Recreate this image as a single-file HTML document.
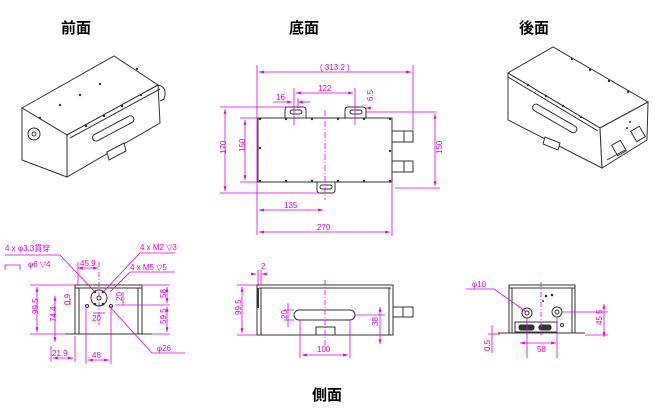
<!DOCTYPE html>
<html><head><meta charset="utf-8"><style>
html,body{margin:0;padding:0;background:#fff;width:660px;height:408px;overflow:hidden}
svg{display:block}
.t{font-family:"Liberation Sans","Noto Sans CJK JP",sans-serif;font-weight:bold;font-size:15px;fill:#000}
.m{stroke:#e000e0;stroke-width:0.8;fill:none}
.mt{font-family:"Liberation Sans",sans-serif;font-size:8px;fill:#e000e0}
.k{stroke:#333;stroke-width:1;fill:none}
.kf{stroke:#333;stroke-width:1;fill:#fff}
</style></head><body>
<svg width="660" height="408" viewBox="0 0 660 408">
<defs>
<marker id="a" viewBox="0 0 10 10" refX="10" refY="5" markerWidth="6" markerHeight="6" orient="auto-start-reverse"><path d="M0,2L10,5L0,8z" fill="#e000e0"/></marker>
</defs>
<text class="t" x="61" y="33">前面</text>
<text class="t" x="289" y="33">底面</text>
<text class="t" x="519" y="33">後面</text>
<text class="t" x="312" y="400">側面</text>

<!-- front iso -->
<g class="k">
<polygon class="kf" points="22,108 114,56 158,85 67,135"/>
<polygon class="kf" points="22,108 67,135 67,177 22,160"/>
<polygon class="kf" points="67,135 158,85 160,123 67,177"/>
<line x1="70" y1="138" x2="160" y2="89"/>
<path d="M158,85 q10,2 6,14 l-4,2"/>
<rect x="90" y="125" width="46" height="7" rx="3.5" transform="rotate(-28 113 128)"/>
<polygon class="kf" points="107,152 124,143 126,151 109,160"/>
<circle cx="34" cy="134" r="6"/><circle cx="34" cy="134" r="2"/>
</g>
<g fill="#333"><circle cx="40" cy="118" r="1.2"/><circle cx="60" cy="105" r="1.2"/><circle cx="80" cy="95" r="1.2"/><circle cx="100" cy="84" r="1.2"/><circle cx="86" cy="126" r="1.2"/><circle cx="104" cy="116" r="1.2"/><circle cx="122" cy="106" r="1.2"/><circle cx="141" cy="95" r="1.2"/><circle cx="137" cy="69" r="1.2"/></g>

<!-- back iso -->
<g class="k">
<polygon class="kf" points="508,73 553,47 648,102 600,128"/>
<polygon class="kf" points="508,73 600,128 602,168 508,120"/>
<polygon class="kf" points="600,128 648,102 647,140 602,168"/>
<line x1="508" y1="77" x2="598" y2="131"/>
<rect x="530" y="115" width="50" height="7" rx="3.5" transform="rotate(30 555 118)"/>
<polygon class="kf" points="545,137 560,143 558,150 543,144"/>
<rect x="614" y="142" width="10" height="12" transform="rotate(-30 619 148)"/>
<rect x="633" y="128" width="10" height="12" transform="rotate(-30 638 134)"/>
<line x1="607" y1="160" x2="625" y2="150"/>
</g>
<g fill="#333"><circle cx="528" cy="85" r="1.2"/><circle cx="546" cy="96" r="1.2"/><circle cx="563" cy="106" r="1.2"/><circle cx="581" cy="117" r="1.2"/><circle cx="572" cy="59" r="1.2"/><circle cx="590" cy="70" r="1.2"/><circle cx="609" cy="81" r="1.2"/><circle cx="628" cy="92" r="1.2"/><circle cx="630" cy="122" r="1"/><circle cx="627" cy="128" r="1"/></g>

<!-- bottom view -->
<g class="k">
<rect x="258" y="118" width="134" height="64"/>
<path d="M285,118 v-8 q0,-3 3,-3 h15 q3,0 3,3 v8"/><rect x="290" y="110" width="12" height="4" rx="2"/>
<path d="M345,118 v-8 q0,-3 3,-3 h15 q3,0 3,3 v8"/><rect x="350" y="110" width="12" height="4" rx="2"/>
<path d="M317,182 v8 q0,3 3,3 h12 q3,0 3,-3 v-8"/><rect x="320" y="185" width="12" height="4" rx="2"/>
<rect x="392" y="131" width="21" height="11"/><line x1="404" y1="131" x2="404" y2="142"/>
<rect x="392" y="161" width="21" height="11"/><line x1="404" y1="161" x2="404" y2="172"/>
</g>
<g fill="#333"><circle cx="260" cy="119" r="1.2"/><circle cx="286" cy="119" r="1.2"/><circle cx="312" cy="119" r="1.2"/><circle cx="338" cy="119" r="1.2"/><circle cx="364" cy="119" r="1.2"/><circle cx="390" cy="119" r="1.2"/><circle cx="260" cy="181" r="1.2"/><circle cx="286" cy="181" r="1.2"/><circle cx="312" cy="181" r="1.2"/><circle cx="338" cy="181" r="1.2"/><circle cx="364" cy="181" r="1.2"/><circle cx="390" cy="181" r="1.2"/><circle cx="390" cy="151" r="1.2"/><circle cx="260" cy="148" r="1.2"/></g>
<g class="m">
<line x1="325" y1="110" x2="325" y2="200" stroke-dasharray="6,2,1,2"/>
<line x1="257" y1="65" x2="257" y2="235"/><line x1="413" y1="65" x2="413" y2="130"/>
<line x1="259" y1="72" x2="411" y2="72" marker-start="url(#a)" marker-end="url(#a)"/>
<line x1="294" y1="88" x2="294" y2="125"/><line x1="355" y1="88" x2="355" y2="125"/>
<line x1="296" y1="93" x2="353" y2="93" marker-start="url(#a)" marker-end="url(#a)"/>
<line x1="273" y1="102" x2="292" y2="102" marker-end="url(#a)"/><line x1="310" y1="102" x2="298" y2="102" marker-end="url(#a)"/>
<line x1="298" y1="98" x2="298" y2="108"/>
<line x1="370" y1="108" x2="366" y2="108" marker-end="url(#a)"/><line x1="366" y1="112" x2="437" y2="112"/>
<line x1="220" y1="107" x2="290" y2="107"/><line x1="220" y1="193" x2="320" y2="193"/>
<line x1="225" y1="109" x2="225" y2="191" marker-start="url(#a)" marker-end="url(#a)"/>
<line x1="240" y1="118" x2="258" y2="118"/><line x1="240" y1="182" x2="258" y2="182"/>
<line x1="245" y1="120" x2="245" y2="180" marker-start="url(#a)" marker-end="url(#a)"/>
<line x1="395" y1="188" x2="440" y2="188"/>
<line x1="435" y1="114" x2="435" y2="186" marker-start="url(#a)" marker-end="url(#a)"/>
<line x1="259" y1="210" x2="323" y2="210" marker-start="url(#a)" marker-end="url(#a)"/>
<line x1="392" y1="182" x2="392" y2="236"/>
<line x1="259" y1="232" x2="390" y2="232" marker-start="url(#a)" marker-end="url(#a)"/>
</g>
<g class="mt">
<text x="320" y="70">( 313.2 )</text><text x="318" y="91">122</text><text x="276" y="100">16</text>
<text x="220" y="152" transform="rotate(-90 224 150)">170</text><text x="241" y="152" transform="rotate(-90 243 150)">150</text>
<text x="436" y="152" transform="rotate(-90 440 150)">150</text><text x="368" y="100" transform="rotate(-90 371 98)">6.5</text>
<text x="284" y="208">135</text><text x="317" y="230">270</text>
</g>

<!-- front side view -->
<g class="k">
<line x1="65" y1="334" x2="152" y2="334"/>
<rect x="75" y="285" width="67" height="49"/>
<line x1="79" y1="288" x2="79" y2="334"/><line x1="138" y1="288" x2="138" y2="334"/>
<line x1="75" y1="288" x2="142" y2="288"/>
<circle cx="99" cy="298" r="8"/><circle cx="99" cy="298" r="2"/>
<circle cx="87" cy="306" r="1.5"/><circle cx="111" cy="306" r="1.5"/>
</g>
<g fill="#333"><circle cx="95" cy="292" r="1.3"/><circle cx="103" cy="292" r="1.3"/><circle cx="95" cy="304" r="1.3"/><circle cx="103" cy="304" r="1.3"/></g>
<g class="m">
<line x1="99" y1="262" x2="99" y2="325" stroke-dasharray="5,2,1,2"/>
<line x1="30" y1="285" x2="75" y2="285"/><line x1="30" y1="334" x2="65" y2="334"/>
<line x1="37" y1="287" x2="37" y2="332" marker-start="url(#a)" marker-end="url(#a)"/>
<line x1="55" y1="296" x2="55" y2="342" marker-start="url(#a)" marker-end="url(#a)"/>
<line x1="70" y1="298" x2="70" y2="305"/>
<line x1="78" y1="268" x2="98" y2="268" marker-start="url(#a)" marker-end="url(#a)"/>
<line x1="78" y1="262" x2="78" y2="285"/>
<line x1="51" y1="346" x2="51" y2="362"/><line x1="75" y1="336" x2="75" y2="362"/>
<line x1="53" y1="358" x2="73" y2="358" marker-start="url(#a)" marker-end="url(#a)"/>
<line x1="86" y1="306" x2="86" y2="364"/><line x1="111" y1="306" x2="111" y2="364"/>
<line x1="88" y1="360" x2="109" y2="360" marker-start="url(#a)" marker-end="url(#a)"/>
<line x1="93" y1="313" x2="105" y2="313"/>
<line x1="142" y1="285" x2="170" y2="285"/><line x1="115" y1="305" x2="170" y2="305"/><line x1="152" y1="334" x2="170" y2="334"/>
<line x1="167" y1="287" x2="167" y2="303" marker-start="url(#a)" marker-end="url(#a)"/>
<line x1="167" y1="307" x2="167" y2="332" marker-start="url(#a)" marker-end="url(#a)"/>
<line x1="123" y1="292" x2="123" y2="305"/>
<polyline points="5,255 60,255 95,292"/>
<polyline points="5,270 5,265 20,265 20,270"/>
<polyline points="175,253 140,253 103,292"/>
<polyline points="175,272 130,272 110,292"/>
<polyline points="185,353 152,353 111,308"/>
</g>
<g class="mt">
<text x="5" y="251">4 x φ3.3貫穿</text><text x="28" y="267">φ6 ▽4</text>
<text x="140" y="250">4 x M2 ▽3</text><text x="130" y="270">4 x M5 ▽5</text>
<text x="80" y="266">45.9</text><text x="52" y="356">21.9</text><text x="92" y="358">48</text><text x="92" y="321">20</text>
<text x="157" y="351">φ26</text>
<text x="30" y="314" transform="rotate(-90 34 310)">99.5</text><text x="48" y="322" transform="rotate(-90 52 318)">74.4</text>
<text x="62" y="305" transform="rotate(-90 66 301)">0.9</text><text x="115" y="300" transform="rotate(-90 119 297)">20</text>
<text x="160" y="298" transform="rotate(-90 163 295)">58</text><text x="158" y="324" transform="rotate(-90 162 320)">59.5</text>
</g>

<!-- side view -->
<g class="k">
<rect x="257" y="285" width="136" height="50"/>
<line x1="259" y1="288" x2="391" y2="288"/><line x1="261" y1="288" x2="261" y2="335"/><line x1="389" y1="288" x2="389" y2="335"/>
<line x1="258" y1="288" x2="258" y2="308" stroke-width="2"/>
<rect x="294" y="310" width="61" height="10" rx="5"/>
<rect x="316" y="327" width="19" height="8"/>
<rect x="393" y="307" width="20" height="10"/><line x1="403" y1="307" x2="403" y2="317"/>
</g>
<g class="m">
<line x1="325" y1="280" x2="325" y2="345" stroke-dasharray="5,2,1,2"/>
<line x1="237" y1="285" x2="257" y2="285"/><line x1="237" y1="335" x2="257" y2="335"/>
<line x1="242" y1="287" x2="242" y2="333" marker-start="url(#a)" marker-end="url(#a)"/>
<line x1="252" y1="274" x2="256" y2="274" marker-end="url(#a)"/><line x1="266" y1="274" x2="262" y2="274" marker-end="url(#a)"/>
<line x1="258" y1="270" x2="258" y2="285"/><line x1="261" y1="270" x2="261" y2="285"/>
<line x1="284" y1="310" x2="294" y2="310"/><line x1="284" y1="320" x2="294" y2="320"/>
<line x1="288" y1="303" x2="288" y2="327"/>
<line x1="355" y1="315" x2="385" y2="315"/>
<line x1="380" y1="307" x2="380" y2="344" marker-start="url(#a)" marker-end="url(#a)"/>
<line x1="300" y1="320" x2="300" y2="358"/><line x1="350" y1="320" x2="350" y2="358"/>
<line x1="302" y1="355" x2="348" y2="355" marker-start="url(#a)" marker-end="url(#a)"/>
</g>
<g class="mt">
<text x="261" y="269">2</text><text x="317" y="352">100</text>
<text x="233" y="315" transform="rotate(-90 237 311)">99.5</text>
<text x="280" y="318" transform="rotate(-90 284 315)">20</text>
<text x="372" y="326" transform="rotate(-90 375 323)">38</text>
</g>

<!-- back side view -->
<g class="k">
<line x1="498" y1="333" x2="585" y2="333"/>
<rect x="509" y="285" width="66" height="48"/>
<line x1="509" y1="288" x2="575" y2="288"/><line x1="512" y1="288" x2="512" y2="333"/><line x1="572" y1="288" x2="572" y2="333"/>
<circle cx="527" cy="313" r="5"/><circle cx="527" cy="313" r="2"/>
<circle cx="557" cy="312" r="5"/><circle cx="557" cy="312" r="2"/>
<rect x="515" y="322" width="42" height="10"/>
<rect x="519" y="325" width="15" height="5" rx="2" fill="#333"/><rect x="539" y="325" width="12" height="5" rx="2" fill="#333"/>
<circle cx="562" cy="325" r="1.5"/>
</g>
<g fill="#333"><circle cx="546" cy="296" r="1.3"/><circle cx="552" cy="295" r="1.3"/><circle cx="543" cy="301" r="1"/></g>
<g class="m">
<line x1="541" y1="282" x2="541" y2="335" stroke-dasharray="5,2,1,2"/>
<polyline points="466,289 494,289 525,311"/>
<line x1="527" y1="318" x2="527" y2="358"/><line x1="557" y1="318" x2="557" y2="358"/>
<line x1="520" y1="343" x2="556" y2="343" marker-start="url(#a)" marker-end="url(#a)"/>
<line x1="562" y1="312" x2="608" y2="312"/><line x1="585" y1="335" x2="608" y2="335"/>
<line x1="604" y1="304" x2="604" y2="337" marker-start="url(#a)" marker-end="url(#a)"/>
<line x1="488" y1="334" x2="500" y2="334"/>
<line x1="492" y1="325" x2="492" y2="353"/>
</g>
<g class="mt">
<text x="472" y="287">φ10</text><text x="537" y="352">58</text>
<text x="594" y="325" transform="rotate(-90 598 321)">45.5</text>
<text x="483" y="350" transform="rotate(-90 487 347)">0.5</text>
</g>
</svg>
</body></html>
